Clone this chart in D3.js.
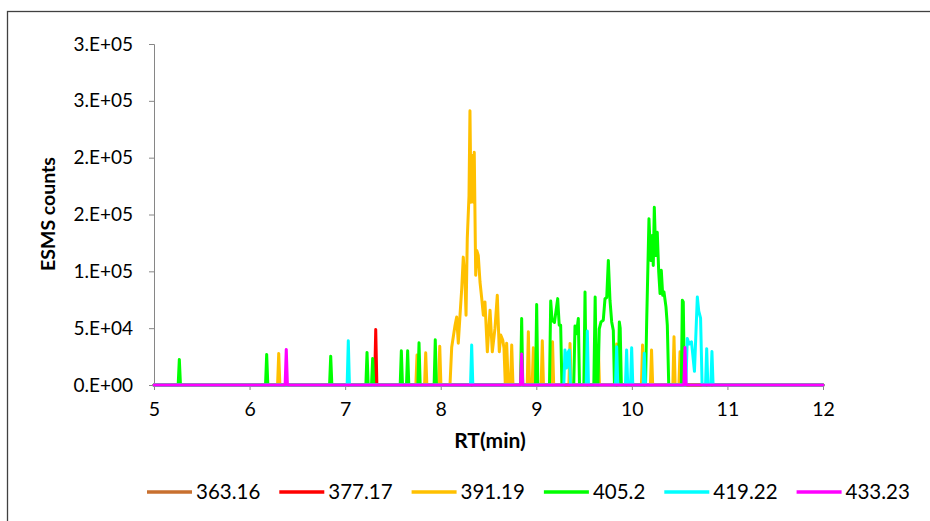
<!DOCTYPE html>
<html>
<head>
<meta charset="UTF-8" />
<title>ESMS chromatogram</title>
<script src="https://cdn.jsdelivr.net/npm/d3@7"></script>
<style>
  body { margin: 0; background: #fff; }
  svg text { font-family: Lato, "Liberation Sans", Arial, sans-serif; fill: #000; }
</style>
</head>
<body>
<script>
// legend names (m/z) and colours
var names = ["363.16", "377.17", "391.19", "405.2", "419.22", "433.23"];
var colors = ["#C8702F", "#FF0000", "#FFC000", "#00FF00", "#00FFFF", "#FF00FF"];

// [RT (min), ESMS counts]
var s363 = [[5, 0], [12, 0]];

var s377 = [[5, 0], [7.308, 0], [7.320, 48800], [7.332, 0], [12, 0]];

var s391 = [[5, 0],
  [6.293, 0], [6.305, 27800], [6.317, 0],
  [7.740, 0], [7.752, 26300], [7.764, 0],
  [7.831, 0], [7.843, 28300], [7.855, 0],
  [7.978, 0], [7.990, 34000], [8.002, 0],
  [8.097, 0], [8.115, 33300], [8.150, 52600], [8.167, 59900], [8.184, 36800],
  [8.202, 61400], [8.220, 85100], [8.236, 112500], [8.254, 90600], [8.265, 61400],
  [8.278, 129000], [8.296, 166700], [8.306, 241200], [8.317, 160800], [8.331, 201800],
  [8.341, 160800], [8.351, 204700], [8.366, 96500], [8.377, 118400], [8.393, 114000],
  [8.411, 90600], [8.429, 76300], [8.446, 61400], [8.463, 73100], [8.488, 29200],
  [8.516, 65800], [8.540, 29200], [8.568, 50000], [8.592, 79000], [8.613, 29200],
  [8.628, 43900], [8.649, 39500], [8.662, 32500], [8.676, 0], [8.690, 36800],
  [8.707, 0], [8.730, 0], [8.743, 35100], [8.756, 0],
  [8.905, 0], [8.917, 46800], [8.929, 0],
  [8.957, 0], [8.969, 32700], [8.981, 0],
  [9.051, 0], [9.063, 38900], [9.075, 0],
  [9.158, 0], [9.170, 38000], [9.182, 0],
  [9.341, 0], [9.353, 36600], [9.365, 0],
  [9.637, 0], [9.649, 35000], [9.661, 0],
  [9.829, 0], [9.841, 36000], [9.853, 0],
  [10.100, 0], [10.112, 35100], [10.124, 0],
  [10.194, 0], [10.206, 30700], [10.218, 0],
  [10.429, 0], [10.441, 42400], [10.453, 0],
  [10.492, 0], [10.504, 29200], [10.516, 0],
  [12, 0]];

var s405 = [[5, 0],
  [5.253, 0], [5.265, 22500], [5.277, 0],
  [6.167, 0], [6.179, 26900], [6.191, 0],
  [6.837, 0], [6.849, 25400], [6.861, 0],
  [7.217, 0], [7.229, 28700], [7.241, 0],
  [7.276, 0], [7.288, 23400], [7.300, 0],
  [7.576, 0], [7.588, 30100], [7.600, 0],
  [7.642, 0], [7.654, 30100], [7.666, 0],
  [7.761, 0], [7.773, 37100], [7.785, 0],
  [7.931, 0], [7.943, 39700], [7.955, 0],
  [8.835, 0], [8.847, 58500], [8.859, 0],
  [8.992, 0], [9.004, 70800], [9.016, 0],
  [9.138, 0], [9.151, 73900], [9.165, 57000], [9.190, 55000], [9.224, 76000],
  [9.240, 52600], [9.255, 52600], [9.268, 0],
  [9.392, 0], [9.405, 51800], [9.420, 45000], [9.440, 58500], [9.452, 0],
  [9.498, 0], [9.510, 81900], [9.522, 0],
  [9.602, 0], [9.616, 77400], [9.630, 0],
  [9.645, 0], [9.659, 49400], [9.677, 55500], [9.701, 57000], [9.719, 75900],
  [9.737, 77000], [9.754, 109600], [9.771, 74600], [9.789, 55500], [9.806, 48000],
  [9.818, 0],
  [9.857, 0], [9.869, 55500], [9.878, 50000], [9.890, 0],
  [10.143, 0], [10.155, 55500], [10.179, 146200], [10.197, 109600], [10.214, 131600],
  [10.224, 105200], [10.235, 156400], [10.250, 114000], [10.266, 134400], [10.281, 99400],
  [10.295, 80400], [10.308, 100900], [10.323, 78900], [10.336, 81800], [10.357, 68700],
  [10.371, 52600], [10.386, 0],
  [10.518, 0], [10.528, 74600], [10.538, 73000], [10.550, 0],
  [12, 0]];

var s419 = [[5, 0],
  [7.021, 0], [7.033, 38900], [7.045, 0],
  [8.312, 0], [8.324, 35100], [8.336, 0],
  [9.288, 0], [9.300, 30700], [9.318, 15000], [9.334, 29000], [9.346, 30700], [9.358, 0],
  [9.522, 0], [9.534, 47400], [9.546, 0],
  [9.829, 0], [9.841, 33600], [9.853, 0],
  [9.933, 0], [9.945, 30700], [9.957, 0],
  [9.986, 0], [9.998, 32700], [10.010, 0],
  [10.118, 0], [10.130, 28000], [10.142, 0],
  [10.565, 0], [10.580, 40900], [10.600, 36000], [10.624, 38000], [10.655, 12000],
  [10.685, 77400], [10.700, 65000], [10.719, 58800], [10.735, 0],
  [10.771, 0], [10.783, 32000], [10.795, 0],
  [10.826, 0], [10.838, 29500], [10.850, 0],
  [12, 0]];

var s433 = [[5, 0],
  [6.372, 0], [6.384, 31300], [6.396, 0],
  [8.835, 0], [8.847, 27200], [8.859, 0],
  [10.544, 0], [10.556, 33000], [10.568, 0],
  [12, 0]];

var series = [s363, s377, s391, s405, s419, s433];
var xTicks = [5, 6, 7, 8, 9, 10, 11, 12];
var yTicks = [0, 50000, 100000, 150000, 200000, 250000, 300000];

var width = 930, height = 521;
var svg = d3.select("body").append("svg")
  .attr("width", width)
  .attr("height", height);

// chart frame (runs off the right and bottom of the picture)
svg.append("rect")
  .attr("x", 7.5).attr("y", 11.5)
  .attr("width", 1000).attr("height", 1000)
  .attr("fill", "none")
  .attr("stroke", "#404040")
  .attr("stroke-width", 1.3);

var x = d3.scaleLinear().domain([5, 12]).range([154, 823]);
var y = d3.scaleLinear().domain([0, 300000]).range([385, 44]);

// excel "0.E+00" style
function sci(v) {
  if (v === 0) return "0.E+00";
  var p = v.toExponential(0).split("e");
  var e = +p[1];
  return p[0] + ".E" + (e < 0 ? "-" : "+") + (Math.abs(e) < 10 ? "0" : "") + Math.abs(e);
}

var yAxis = svg.append("g")
  .attr("transform", "translate(154,0)")
  .call(d3.axisLeft(y).tickValues(yTicks).tickFormat(sci).tickSize(5).tickPadding(16));
yAxis.select(".domain").attr("stroke", "#868686");
yAxis.selectAll(".tick line").attr("stroke", "#868686");
yAxis.selectAll("text").style("font-size", "19px").attr("fill", "#000");

var xAxis = svg.append("g")
  .attr("transform", "translate(0,385)")
  .call(d3.axisBottom(x).tickValues(xTicks).tickFormat(d3.format("d")).tickSize(5).tickPadding(12));
xAxis.select(".domain").attr("stroke", "#868686");
xAxis.selectAll(".tick line").attr("stroke", "#868686");
xAxis.selectAll("text").style("font-size", "19.5px").attr("fill", "#000");

var line = d3.line()
  .x(function (d) { return x(d[0]); })
  .y(function (d) { return y(d[1]); });

svg.append("g").selectAll("path")
  .data(series)
  .enter()
  .append("path")
  .attr("d", line)
  .attr("fill", "none")
  .attr("stroke", function (d, i) { return colors[i]; })
  .attr("stroke-width", 3)
  .attr("stroke-linejoin", "round")
  .attr("stroke-linecap", "round");

// axis titles
svg.append("text")
  .attr("transform", "translate(54.5,214) rotate(-90)")
  .attr("text-anchor", "middle")
  .style("font-size", "19.5px")
  .style("font-weight", "bold")
  .text("ESMS counts");

svg.append("text")
  .attr("x", 490).attr("y", 448)
  .attr("text-anchor", "middle")
  .style("font-size", "21px")
  .style("font-weight", "bold")
  .text("RT(min)");

// legend: sample line, label, then the next item
var lg = svg.append("g").attr("transform", "translate(147,492)");
var pos = 0;
names.forEach(function (n, i) {
  var g = lg.append("g").attr("transform", "translate(" + pos + ",0)");
  g.append("line")
    .attr("x1", 0).attr("x2", 45)
    .attr("stroke", colors[i])
    .attr("stroke-width", 3.5);
  var t = g.append("text")
    .attr("x", 49).attr("y", 7)
    .style("font-size", "20.5px")
    .text(n);
  pos += 49 + t.node().getComputedTextLength() + 19;
});
</script>
</body>
</html>
